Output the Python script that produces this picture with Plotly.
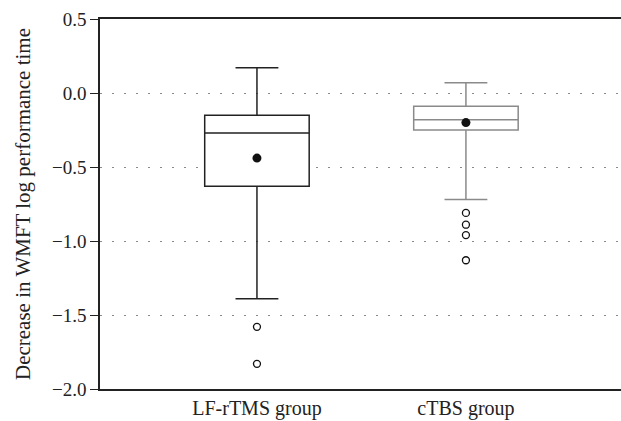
import plotly.graph_objects as go

# Data
groups = ["LF-rTMS group", "cTBS group"]
upper_fence = [0.17, 0.07]
q3 = [-0.15, -0.09]
median = [-0.27, -0.18]
q1 = [-0.63, -0.25]
lower_fence = [-1.39, -0.72]
means = [-0.44, -0.20]
outliers_lf = [-1.58, -1.83]
outliers_ctbs = [-0.81, -0.89, -0.96, -1.13]

box_colors = ["#222222", "#8a8a8a"]
FONT = "Liberation Serif"

fig = go.Figure()
xpos = [0, 1]
for i in range(2):
    fig.add_trace(go.Box(
        x=[xpos[i]], q1=[q1[i]], median=[median[i]], q3=[q3[i]],
        lowerfence=[lower_fence[i]], upperfence=[upper_fence[i]],
        boxpoints=False, width=0.5, whiskerwidth=0.41,
        fillcolor="white", line=dict(color=box_colors[i], width=1.5),
        showlegend=False, hoverinfo="skip",
    ))

fig.add_trace(go.Scatter(
    x=[0] * len(outliers_lf) + [1] * len(outliers_ctbs),
    y=outliers_lf + outliers_ctbs, mode="markers",
    marker=dict(symbol="circle-open", size=7, color="#111111", line=dict(width=1.3)),
    showlegend=False,
))
fig.add_trace(go.Scatter(
    x=xpos, y=means, mode="markers",
    marker=dict(symbol="circle", size=9, color="#111111"),
    showlegend=False,
))

# hide the vertical edge at the right side of the plot area
fig.add_shape(type="rect", xref="paper", yref="paper", x0=0.9965, x1=1.02,
              y0=0.004, y1=0.996, fillcolor="white", line=dict(width=0),
              layer="above")

fig.update_layout(
    width=621, height=421,
    margin=dict(l=100, r=0, t=19, b=32),
    paper_bgcolor="white", plot_bgcolor="white",
    font=dict(family=FONT, size=19, color="#222222"),
    xaxis=dict(
        range=[-0.751, 1.742], tickvals=xpos, ticktext=groups,
        showgrid=False, zeroline=False, showline=True, mirror=True,
        linecolor="#222222", linewidth=1.6, ticks="",
        tickfont=dict(family=FONT, size=20),
    ),
    yaxis=dict(
        range=[-2.0, 0.5], tickvals=[-2.0, -1.5, -1.0, -0.5, 0.0, 0.5],
        tickformat=".1f", showgrid=True, gridcolor="#8a8a8a", gridwidth=1,
        griddash="2px,10px", zeroline=False, showline=True, mirror=False,
        linecolor="#222222", linewidth=1.6, ticks="outside", ticklen=8,
        tickcolor="#222222", tickwidth=1.3,
        tickfont=dict(family=FONT, size=19),
        title=dict(text="Decrease in WMFT log performance time",
                   font=dict(family=FONT, size=21), standoff=16),
    ),
)

fig.write_html("out.html")
